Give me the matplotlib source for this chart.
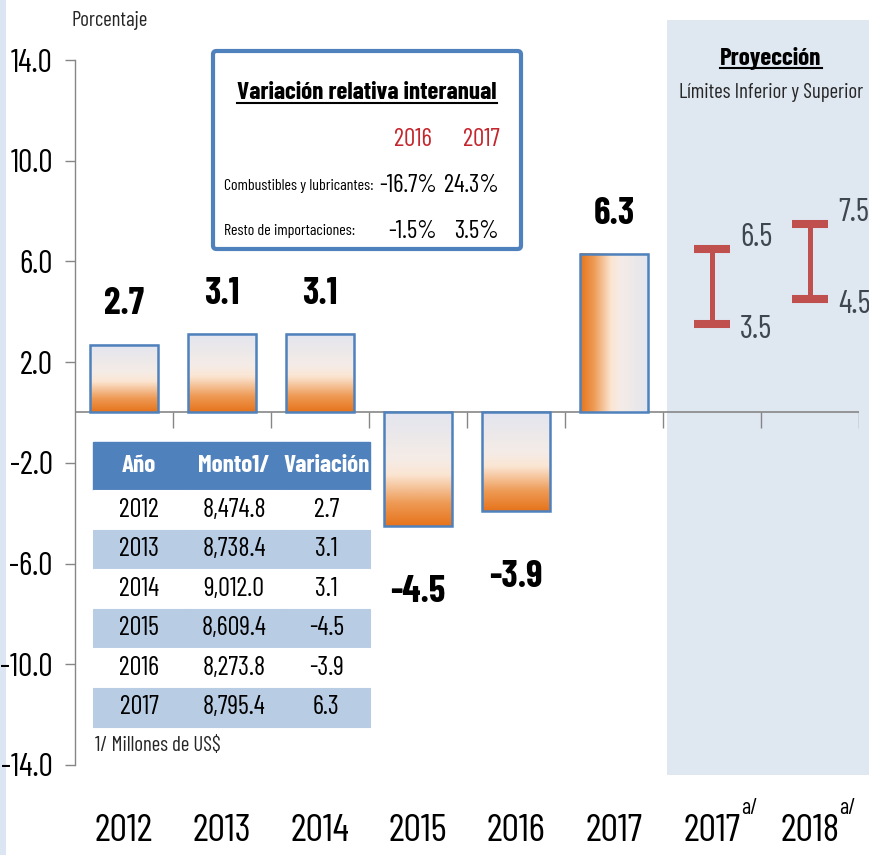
import numpy as np
import matplotlib
matplotlib.use('Agg')
import matplotlib.pyplot as plt
from matplotlib.patches import Rectangle, FancyBboxPatch
from matplotlib.colors import LinearSegmentedColormap
from matplotlib.lines import Line2D

# ---------------- data ----------------
years = ['2012', '2013', '2014', '2015', '2016', '2017']
variation = [2.7, 3.1, 3.1, -4.5, -3.9, 6.3]
proj_years = ['2017', '2018']
proj_low = [3.5, 4.5]
proj_high = [6.5, 7.5]
x_notes = ['', '', '', '', '', '', 'a/', 'a/']
y_ticks = [14.0, 10.0, 6.0, 2.0, -2.0, -6.0, -10.0, -14.0]

table_cols = ['Año', 'Monto1/', 'Variación']
table_years = ['2012', '2013', '2014', '2015', '2016', '2017']
table_amount = ['8,474.8', '8,738.4', '9,012.0', '8,609.4', '8,273.8', '8,795.4']
table_var = ['2.7', '3.1', '3.1', '-4.5', '-3.9', '6.3']

inset_title = 'Variación relativa interanual'
inset_years = ['2016', '2017']
inset_rows = ['Combustibles y lubricantes:', 'Resto de importaciones:']
inset_vals = [['-16.7%', '24.3%'], ['-1.5%', '3.5%']]

NARROW = ['Barlow Condensed', 'DejaVu Sans']
plt.rcParams['font.family'] = NARROW

W, H = 870, 855
fig = plt.figure(figsize=(W / 100, H / 100), dpi=100)
fig.patch.set_facecolor('white')


def fx(px):
    return px / W


def fy(py):
    return 1 - py / H


# background decorations
fig.patches.append(Rectangle((0, 0), fx(6), 1, transform=fig.transFigure,
                             facecolor='#dce6f2', edgecolor='none', zorder=-2))
fig.patches.append(Rectangle((fx(667), fy(775)), 1 - fx(667), fy(20) - fy(775),
                             transform=fig.transFigure, facecolor='#dfe7f1',
                             edgecolor='none', zorder=-1))

ax = fig.add_axes([fx(75), fy(765), 784 / W, 705 / H])
ax.patch.set_alpha(0)
XMIN, XMAX = -0.5, 7.5
ax.set_xlim(XMIN, XMAX)
ax.set_ylim(-14, 14)
for s in ['top', 'right', 'bottom']:
    ax.spines[s].set_visible(False)
ax.spines['left'].set_color('#868686')
ax.spines['left'].set_linewidth(1)

# bars with gradient fill
xs = np.arange(len(years))
bars = ax.bar(xs, variation, width=0.7, facecolor='none', edgecolor='#4f81bd',
              linewidth=1.8, zorder=3)
cmap = LinearSegmentedColormap.from_list('grad', [
    (0.0, '#e6731b'), (0.2, '#ee9a55'), (0.45, '#fbe5d2'),
    (0.58, '#f5ece6'), (1.0, '#e3e5ef')])
grad = np.linspace(0, 1, 256)
for i, rect in enumerate(bars):
    x0, w = rect.get_x(), rect.get_width()
    y0, h = rect.get_y(), rect.get_height()
    ymin, ymax = min(y0, y0 + h), max(y0, y0 + h)
    arr = grad.reshape(1, -1) if i == len(bars) - 1 else grad.reshape(-1, 1)
    ax.imshow(arr, cmap=cmap, extent=(x0, x0 + w, ymin, ymax), origin='lower',
              aspect='auto', zorder=2, interpolation='bilinear')
ax.set_xlim(XMIN, XMAX)
ax.set_ylim(-14, 14)

# zero line and category separators
ax.axhline(0, color='#868686', lw=1.2, zorder=1)
bounds = np.arange(len(years) + len(proj_years)) + 0.5
ax.vlines(bounds, -0.6, 0, color='#868686', lw=1, zorder=1)

# bar value labels
for x, v in zip(xs, variation):
    off = 29 if v > 0 else -48
    ax.annotate(f'{v:.1f}', xy=(x, v), xytext=(0, off), textcoords='offset points',
                ha='center', va='center', fontsize=27, fontweight='bold',
                color='black')

# projection ranges
pxs = np.arange(len(years), len(years) + len(proj_years))
low = np.array(proj_low)
high = np.array(proj_high)
ax.errorbar(pxs, (low + high) / 2, yerr=(high - low) / 2, fmt='none',
            ecolor='#c0504d', elinewidth=3.6, capsize=13.3, capthick=5.8, zorder=4)
for x, lo, hi in zip(pxs, low, high):
    ax.annotate(f'{hi:.1f}', xy=(x, hi), xytext=(20, 8), textcoords='offset points',
                ha='left', va='center', fontsize=23, color='#3f4650')
    ax.annotate(f'{lo:.1f}', xy=(x, lo), xytext=(20, -4), textcoords='offset points',
                ha='left', va='center', fontsize=23, color='#3f4650')

# ticks
ax.set_yticks(y_ticks)
ax.set_yticklabels([f'{v:.1f}' for v in y_ticks])
ax.tick_params(axis='y', length=7, width=1, color='#868686', pad=9,
               labelsize=23, labelcolor='black')
all_labels = years + proj_years
ax.set_xticks(np.arange(len(all_labels)))
ax.set_xticklabels(all_labels)
ax.tick_params(axis='x', length=0, pad=35, labelsize=28, labelcolor='black')
for i, note in enumerate(x_notes):
    if note:
        ax.annotate(note, xy=(i, 0), xycoords=('data', 'axes fraction'),
                    xytext=(21, -31), textcoords='offset points',
                    ha='left', va='center', fontsize=16, color='black')

# table
rows = [[a, b, c] for a, b, c in zip(table_years, table_amount, table_var)]
colw = np.array([92, 98, 87], dtype=float)
tb_l, tb_r, tb_t, tb_b = 93, 370, 442, 727
bbox = [(tb_l - 75) / 784, (765 - tb_b) / 705, (tb_r - tb_l) / 784, (tb_b - tb_t) / 705]
tbl = ax.table(cellText=rows, colLabels=table_cols, cellLoc='center',
               colWidths=list(colw / colw.sum()), bbox=bbox)
tbl.auto_set_font_size(False)
tbl.set_zorder(5)
for (r, c), cell in tbl.get_celld().items():
    if r == 0:
        cell.set_facecolor('#4f81bd')
        cell.set_edgecolor('#4f81bd')
        cell.set_height(48)
        cell.set_text_props(fontsize=18, fontweight='bold', color='white', family=NARROW)
    else:
        fc = 'white' if r % 2 == 1 else '#b8cce4'
        cell.set_facecolor(fc)
        cell.set_edgecolor(fc)
        cell.set_linewidth(0.8)
        cell.set_height(39.5)
        cell.set_text_props(fontsize=19, color='black', family=NARROW)

fig.text(fx(95), fy(745), r'1/ Millones de US\$', ha='left', va='center',
         fontsize=15, color='#262626')

# porcentaje
fig.text(fx(110), fy(20), 'Porcentaje', ha='center', va='center', fontsize=15,
         color='#262626')

# inset box
box = FancyBboxPatch((fx(213), fy(249)), fx(521) - fx(213), fy(51) - fy(249),
                     boxstyle='round,pad=0,rounding_size=0.004',
                     transform=fig.transFigure, facecolor='white',
                     edgecolor='#4f81bd', linewidth=3, zorder=6)
fig.patches.append(box)
t_title = fig.text(fx(367), fy(93), inset_title, ha='center', va='center',
                   fontsize=18, fontweight='bold', color='black', zorder=7)
year_right = [432, 500]
for yr, xr in zip(inset_years, year_right):
    fig.text(fx(xr), fy(139), yr, ha='right', va='center', fontsize=18,
             color='#c4262e', zorder=7)
row_y = [186, 231]
val_right = [437, 499]
for lab, vals, yy in zip(inset_rows, inset_vals, row_y):
    fig.text(fx(224), fy(yy), lab, ha='left', va='center', fontsize=11.5,
             color='black', zorder=7)
    for v, xr in zip(vals, val_right):
        fig.text(fx(xr), fy(yy), v, ha='right', va='center', fontsize=18,
                 color='black', zorder=7)

# projection header
t_proj = fig.text(fx(771), fy(58), 'Proyección', ha='center', va='center',
                  fontsize=18, fontweight='bold', color='black')
fig.text(fx(771), fy(92), 'Límites Inferior y Superior', ha='center', va='center',
         fontsize=15, color='#262626')

# underlines
fig.canvas.draw()
renderer = fig.canvas.get_renderer()
for t, z in [(t_title, 7), (t_proj, 1)]:
    bb = t.get_window_extent(renderer)
    yl = (bb.y0 + 1) / H
    fig.add_artist(Line2D([bb.x0 / W, bb.x1 / W], [yl, yl], transform=fig.transFigure,
                          color='black', lw=1.5, zorder=z))

fig.savefig('out.png', dpi=100)
